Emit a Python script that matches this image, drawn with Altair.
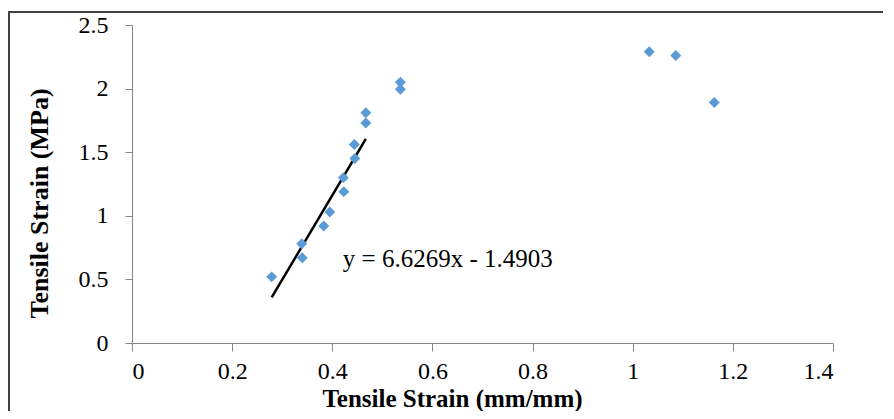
import altair as alt
import pandas as pd

# Data
strain = [0.279, 0.339, 0.340, 0.383, 0.395, 0.423, 0.422, 0.445, 0.444,
          0.467, 0.467, 0.536, 0.536, 1.033, 1.086, 1.163]
stress = [0.52, 0.78, 0.67, 0.92, 1.03, 1.19, 1.30, 1.45, 1.56,
          1.73, 1.81, 1.995, 2.05, 2.29, 2.26, 1.89]

# Linear fit shown on the chart
slope = 6.6269
intercept = -1.4903
trend_x = [0.279, 0.467]
equation = "y = 6.6269x - 1.4903"
eq_pos = (0.421, 0.60)

x_ticks = [0, 0.2, 0.4, 0.6, 0.8, 1.0, 1.2, 1.4]
y_ticks = [0, 0.5, 1.0, 1.5, 2.0, 2.5]

W, H = 701, 318
FONT = "Liberation Serif"

pts = pd.DataFrame({"x": strain, "y": stress})
trend = pd.DataFrame({"x": trend_x, "y": [slope * v + intercept for v in trend_x]})
eq = pd.DataFrame({"x": [eq_pos[0]], "y": [eq_pos[1]], "t": [equation]})

xs = alt.Scale(domain=[0, 1.4], nice=False, zero=False)
ys = alt.Scale(domain=[0, 2.5], nice=False, zero=False)

xaxis = alt.Axis(values=x_ticks, format="~g", grid=False, title="Tensile Strain (mm/mm)",
                 domainColor="#868686", tickColor="#868686", tickSize=8, labelPadding=8,
                 labelFont=FONT, labelFontSize=24, labelColor="#000000",
                 titleFont=FONT, titleFontSize=25, titleFontWeight="bold", titleColor="#000000",
                 titleX=320, titleY=63, titleBaseline="alphabetic", titleAlign="center")
yaxis = alt.Axis(values=y_ticks, format="~g", grid=False, title="Tensile Strain (MPa)",
                 domainColor="#868686", tickColor="#868686", tickSize=7, labelPadding=17,
                 labelFont=FONT, labelFontSize=24, labelColor="#000000",
                 titleFont=FONT, titleFontSize=26, titleFontWeight="bold", titleColor="#000000",
                 titleX=-93, titleY=178, titleBaseline="middle", titleAlign="center", titleAngle=270)

points = alt.Chart(pts).mark_point(shape="diamond", filled=True, size=120, color="#5B9BD5", opacity=1).encode(
    x=alt.X("x:Q", scale=xs, axis=xaxis),
    y=alt.Y("y:Q", scale=ys, axis=yaxis),
)

line = alt.Chart(trend).mark_line(color="#000000", strokeWidth=2.5).encode(
    x=alt.X("x:Q", scale=xs), y=alt.Y("y:Q", scale=ys)
)

label = alt.Chart(eq).mark_text(font=FONT, fontSize=25, align="left", baseline="alphabetic",
                                color="#000000").encode(
    x=alt.X("x:Q", scale=xs), y=alt.Y("y:Q", scale=ys), text="t:N"
)

frame_top = alt.Chart(eq).mark_rule(color="#404040", strokeWidth=2).encode(
    x=alt.value(-124), x2=alt.value(W + 60), y=alt.value(-13)
)
frame_left = alt.Chart(eq).mark_rule(color="#404040", strokeWidth=2).encode(
    x=alt.value(-123), y=alt.value(-14), y2=alt.value(H + 70)
)

chart = alt.layer(frame_top, frame_left, line, points, label).properties(
    width=W, height=H,
    autosize=alt.AutoSizeParams(type="none"),
    padding={"left": 124, "top": 17, "right": 50, "bottom": 68},
).configure_view(stroke=None)

chart.save("out.html", embed_options={"renderer": "svg", "actions": False})
